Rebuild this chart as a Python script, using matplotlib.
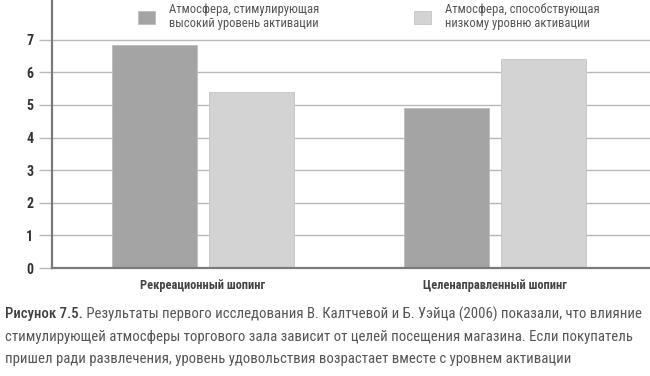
import numpy as np
import matplotlib
matplotlib.use("Agg")
import matplotlib.pyplot as plt
from matplotlib import font_manager

categories = ["Рекреационный шопинг", "Целенаправленный шопинг"]
high_activation = [6.85, 4.9]
low_activation = [5.4, 6.4]
series_labels = ["Атмосфера, стимулирующая\nвысокий уровень активации",
                 "Атмосфера, способствующая\nнизкому уровню активации"]
yticks = [0, 1, 2, 3, 4, 5, 6, 7]
caption_head = "Рисунок 7.5."
caption_lines = [
    " Результаты первого исследования В. Калтчевой и Б. Уэйца (2006) показали, что влияние",
    "стимулирующей атмосферы торгового зала зависит от целей посещения магазина. Если покупатель",
    "пришел ради развлечения, уровень удовольствия возрастает вместе с уровнем активации",
]

# pick a condensed font that is installed
installed = {f.name for f in font_manager.fontManager.ttflist}
font = "DejaVu Sans"
for name in ["Roboto Condensed", "PT Sans Narrow", "Fira Sans Condensed", "IBM Plex Sans Condensed"]:
    if name in installed:
        font = name
        break
plt.rcParams["font.family"] = [font, "DejaVu Sans"]

dark = "#a4a4a4"
light = "#d3d3d3"
grid = "#b9b9b9"

W, H = 650, 376
fig = plt.figure(figsize=(W / 100, H / 100), dpi=100)
ax = fig.add_axes([52 / W, (H - 268) / H, 1 - 52 / W, 268 / H])

x = np.arange(len(categories))
width = 0.29
off = 0.166
b1 = ax.bar(x - off, high_activation, width, color=dark, edgecolor="#bdbdbd", linewidth=0.6, zorder=2,
            label=series_labels[0])
b2 = ax.bar(x + off, low_activation, width, color=light, edgecolor="#c4c4c4", linewidth=0.6, zorder=2,
            label=series_labels[1])

ax.set_xlim(-0.517, 1.531)
ax.set_ylim(0, 268 / 32.6)
ax.set_yticks(yticks)
ax.set_yticklabels([str(t) for t in yticks], fontsize=10, color="#333333", fontweight="bold")
ax.yaxis.grid(True, color=grid, linewidth=1.0, zorder=0)
ax.set_axisbelow(True)
ax.tick_params(axis="y", length=9.5, width=1.0, color=grid, pad=4)
ax.set_xticks(x)
ax.set_xticklabels(categories, fontsize=8.9, color="#444444", fontweight="bold")
ax.tick_params(axis="x", length=0, pad=8)
for s in ["top", "right"]:
    ax.spines[s].set_visible(False)
ax.spines["left"].set_color("#7a7a7a")
ax.spines["left"].set_linewidth(1.6)
ax.spines["bottom"].set_color("#7a7a7a")
ax.spines["bottom"].set_linewidth(1.6)

leg = ax.legend(handles=[b1, b2], labels=series_labels, ncol=2, loc="upper left",
                bbox_to_anchor=(138 / W, 1 - 3 / H), bbox_transform=fig.transFigure,
                frameon=False, fontsize=9.1, handlelength=1.35, handleheight=1.2,
                handletextpad=1.1, columnspacing=7.5, borderaxespad=0, borderpad=0)
for t in leg.get_texts():
    t.set_color("#555555")
    t.set_linespacing(1.1)

# caption: bold head followed by regular text
fs = 10.6
head = fig.text(5 / W, 1 - 314 / H, caption_head, fontsize=fs, color="#3d3d3d",
                fontweight="medium", va="center")
fig.canvas.draw()
r = fig.canvas.get_renderer()
hx = head.get_window_extent(r).x1
fig.text(hx / W, 1 - 314 / H, caption_lines[0], fontsize=fs, color="#555555", va="center")
fig.text(5 / W, 1 - 337 / H, caption_lines[1], fontsize=fs, color="#555555", va="center")
fig.text(5 / W, 1 - 359 / H, caption_lines[2], fontsize=fs, color="#555555", va="center")

fig.savefig("out.png", dpi=100)
